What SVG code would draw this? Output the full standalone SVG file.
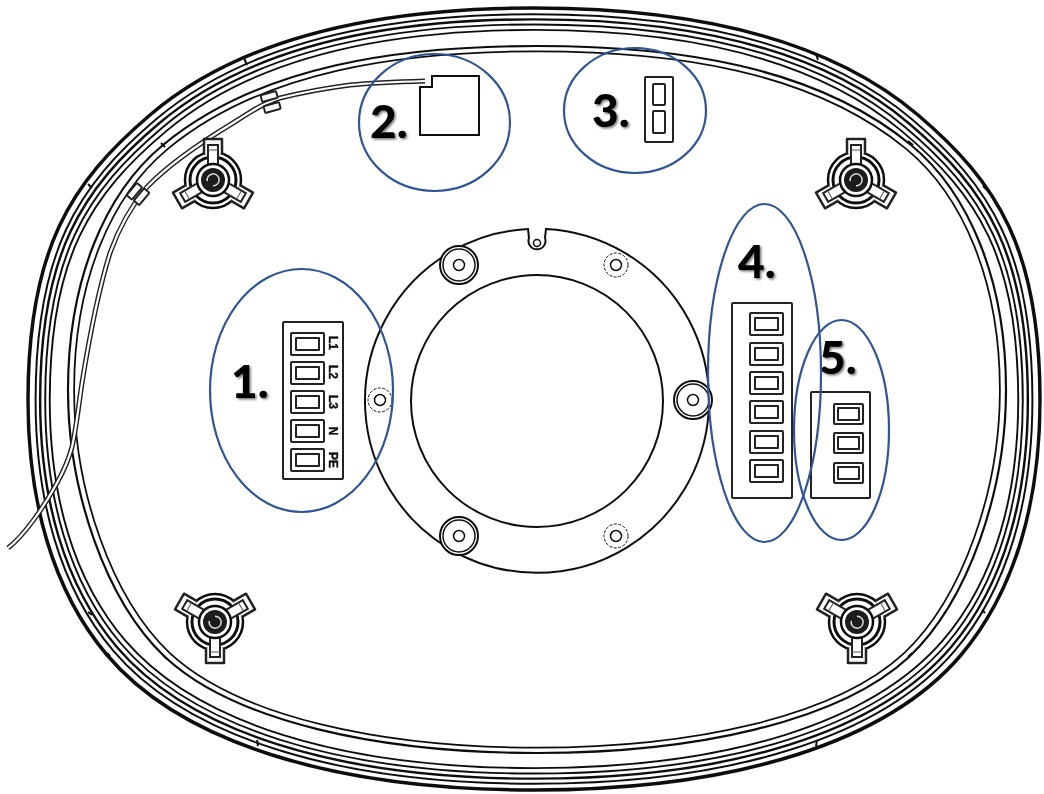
<svg xmlns="http://www.w3.org/2000/svg" width="1044" height="794" viewBox="0 0 1044 794">
<style>
.l{fill:none;stroke:#111;stroke-width:2;vector-effect:non-scaling-stroke}
.t{fill:#fff;stroke:#222;stroke-width:2;stroke-linejoin:round}
.e{fill:none;stroke:#2f5597;stroke-width:2.200}
.n{font-family:Lato,"Liberation Sans",sans-serif;font-weight:900;font-size:46px;fill:#000;filter:url(#sh)}
.s{font-family:"Liberation Sans",sans-serif;font-weight:700;font-size:12px;fill:#111;stroke:#111;stroke-width:.4;text-anchor:middle}
</style>
<defs>
<filter id="sh" x="-20%" y="-20%" width="150%" height="150%"><feDropShadow dx="1.500" dy="1.500" stdDeviation="1.200" flood-color="#000" flood-opacity=".55"/></filter>
<filter id="soft" x="0" y="0" width="1044" height="794" filterUnits="userSpaceOnUse"><feGaussianBlur stdDeviation=".4"/></filter>
<path id="rim" d="M534 8C400 8 250 30 150 115C70 183 28 250 28 400C28 500 52 590 107 655C180 741 330 790 534 790C738 790 888 741 961 655C1016 590 1040 500 1040 400C1040 250 998 183 918 115C818 30 668 8 534 8Z"/>
<path id="seat" d="M537 46C400 46 260 65 163 145C105 193 68 280 68 390C68 490 105 600 165 657C235 722 380 753 537 753C694 753 839 722 909 657C969 600 1006 490 1006 390C1006 280 969 193 911 145C814 65 674 46 537 46Z"/>
<g id="arm"><path d="M-9 -26V-41H9V-26" fill="#fff" stroke="#222" stroke-width="2.500" stroke-linejoin="round"/><path d="M-5 -16V-35H5V-16" fill="#fff" stroke="#222" stroke-width="2"/><path d="M-5 -30H5" stroke="#555" stroke-width="1"/></g>
<g id="clip">
<circle r="28" fill="#fff" stroke="#111" stroke-width="2.500"/>
<circle r="23" fill="none" stroke="#111" stroke-width="3"/>
<use href="#arm"/><use href="#arm" transform="rotate(120)"/><use href="#arm" transform="rotate(240)"/>
<circle r="16" fill="#fff" stroke="#111" stroke-width="2.500"/>
<circle r="12" fill="#1c1c1c"/>
<path d="M5 -3A6 6 0 1 1 -2 -5.500" transform="rotate(200)" fill="none" stroke="#ddd" stroke-width="1.500"/>
</g>
<g id="term"><rect class="t" x="0" y="0" width="33" height="22" rx="1"/><rect class="t" x="5" y="5" width="23" height="12"/></g>
<g id="term2"><rect class="t" x="0" y="0" width="29" height="20" rx="1"/><rect class="t" x="4" y="4" width="21" height="12"/></g>
</defs>
<rect width="1044" height="794" fill="#fff"/>
<g filter="url(#soft)">
<g id="rims">
<use href="#rim" class="l" style="stroke-width:3.500"/>
<use href="#rim" class="l" style="stroke-width:2" transform="translate(534 399) scale(.985 .984) translate(-534 -399)"/>
<use href="#rim" class="l" style="stroke-width:2.500" transform="translate(534 399) scale(.976 .971) translate(-534 -399)"/>
<use href="#rim" class="l" style="stroke-width:2" transform="translate(534 399) scale(.966 .958) translate(-534 -399)"/>
<use href="#rim" class="l" style="stroke-width:2" transform="translate(534 399) scale(.957 .944) translate(-534 -399)"/>
<use href="#seat" class="l" style="stroke-width:2.200"/>
<use href="#seat" class="l" style="stroke-width:1.800" transform="translate(537 400) scale(.987 .985) translate(-537 -400)"/>
<path class="l" d="M244 58l3 7M88 184l4 4M161 143l4 4M908 141l5 4M816 54l2 6M107 653l3 3M257 740l1 6M163 655l4 4M908 657l4 -4M817 740l-1 6M982 610l3 3M88 612l4 3M983 186l4 4"/>
</g>
<g id="wire" fill="none">
<path d="M425 81C395 82 372 83 350 85C320 89 300 93 280 98C262 103 248 114 233 123C200 143 170 163 147 187C132 205 120 225 110 253C100 285 90 333 82 383C78 410 76 430 72 447C68 462 62 474 57 483C45 505 25 535 8 548" stroke="#222" stroke-width="5"/>
<path d="M425 81C395 82 372 83 350 85C320 89 300 93 280 98C262 103 248 114 233 123C200 143 170 163 147 187C132 205 120 225 110 253C100 285 90 333 82 383C78 410 76 430 72 447C68 462 62 474 57 483C45 505 25 535 8 548" stroke="#fff" stroke-width="2.200"/>
<rect class="t" x="261" y="93" width="16" height="7" rx="1" transform="rotate(-15 269 96)"/>
<rect class="t" x="264" y="104" width="16" height="7" rx="1" transform="rotate(-15 272 107)"/>
<rect class="t" x="126" y="188" width="16" height="7" rx="1" transform="rotate(-50 134 191)"/>
<rect class="t" x="134" y="193" width="16" height="7" rx="1" transform="rotate(-50 142 197)"/>
</g>
<g id="clips">
<use href="#clip" transform="translate(213 180)"/>
<use href="#clip" transform="translate(856 180)"/>
<use href="#clip" transform="translate(215 622) scale(1 -1)"/>
<use href="#clip" transform="translate(857 622) scale(1 -1)"/>
</g>
<g id="flange">
<path class="l" d="M546 229A172 172 0 1 1 528 229L529 238A8.500 8.500 0 1 0 545 238Z"/>
<circle cx="537" cy="243" r="3.500" class="l" style="stroke-width:1.500"/>
<circle cx="537" cy="401" r="126" class="l"/>
<g id="bolts">
<circle cx="459" cy="265" r="19" fill="#fff" stroke="#111" stroke-width="2"/><circle cx="459" cy="265" r="16" class="l" style="stroke-width:1.500"/><circle cx="459" cy="265" r="5.500" class="l" style="stroke-width:1.500"/>
<circle cx="459" cy="536" r="19" fill="#fff" stroke="#111" stroke-width="2"/><circle cx="459" cy="536" r="16" class="l" style="stroke-width:1.500"/><circle cx="459" cy="536" r="5.500" class="l" style="stroke-width:1.500"/>
<circle cx="693" cy="400" r="19" fill="#fff" stroke="#111" stroke-width="2"/><circle cx="693" cy="400" r="16" class="l" style="stroke-width:1.500"/><circle cx="693" cy="400" r="5.500" class="l" style="stroke-width:1.500"/>
<circle cx="616" cy="265" r="12" class="l" style="stroke-width:1;stroke-dasharray:3 1.500"/><circle cx="616" cy="265" r="5.500" class="l" style="stroke-width:1.500"/>
<circle cx="616" cy="536" r="12" class="l" style="stroke-width:1;stroke-dasharray:3 1.500"/><circle cx="616" cy="536" r="5.500" class="l" style="stroke-width:1.500"/>
<circle cx="380" cy="400" r="12" class="l" style="stroke-width:1;stroke-dasharray:3 1.500"/><circle cx="380" cy="400" r="5.500" class="l" style="stroke-width:1.500"/>
</g>
</g>
<g id="block1">
<rect class="t" x="283" y="322" width="60" height="157" rx="1"/>
<use href="#term" x="291" y="333"/><use href="#term" x="291" y="362"/><use href="#term" x="291" y="391"/><use href="#term" x="291" y="420"/><use href="#term" x="291" y="449"/>
<text class="s" transform="translate(329 343) rotate(90)">L1</text>
<text class="s" transform="translate(329 372) rotate(90)">L2</text>
<text class="s" transform="translate(329 402) rotate(90)">L3</text>
<text class="s" transform="translate(329 431) rotate(90)">N</text>
<text class="s" transform="translate(329 460) rotate(90)">PE</text>
</g>
<g id="block2">
<path class="l" d="M432 76H479V135H420V87H432Z"/>
</g>
<g id="block3">
<rect class="t" x="645" y="77" width="28" height="65" rx="1"/>
<rect class="t" x="653" y="84" width="12" height="21" rx="1"/>
<rect class="t" x="653" y="111" width="12" height="22" rx="1"/>
</g>
<g id="block4">
<rect class="t" x="732" y="303" width="60" height="195" rx="1"/>
<use href="#term" x="750" y="313"/><use href="#term" x="750" y="343"/><use href="#term" x="750" y="372"/><use href="#term" x="750" y="401"/><use href="#term" x="750" y="431"/><use href="#term" x="750" y="460"/>
</g>
<g id="block5">
<rect class="t" x="811" y="392" width="59" height="106" rx="1"/>
<use href="#term2" x="834" y="404"/><use href="#term2" x="834" y="433"/><use href="#term2" x="834" y="463"/>
</g>
</g>
<g id="labels">
<text class="n" x="231" y="398">1.</text>
<text class="n" x="370" y="138">2.</text>
<text class="n" x="592" y="127">3.</text>
<text class="n" x="738" y="278">4.</text>
<text class="n" x="819" y="374">5.</text>
</g>
<g id="circles">
<ellipse class="e" cx="301.500" cy="390.500" rx="91.500" ry="121.500"/>
<ellipse class="e" cx="434.500" cy="122.500" rx="75.500" ry="68.500"/>
<ellipse class="e" cx="635" cy="110.500" rx="71" ry="62.500"/>
<ellipse class="e" cx="764.500" cy="373" rx="56.500" ry="169"/>
<ellipse class="e" cx="841.500" cy="430" rx="47.500" ry="110"/>
</g>
</svg>
